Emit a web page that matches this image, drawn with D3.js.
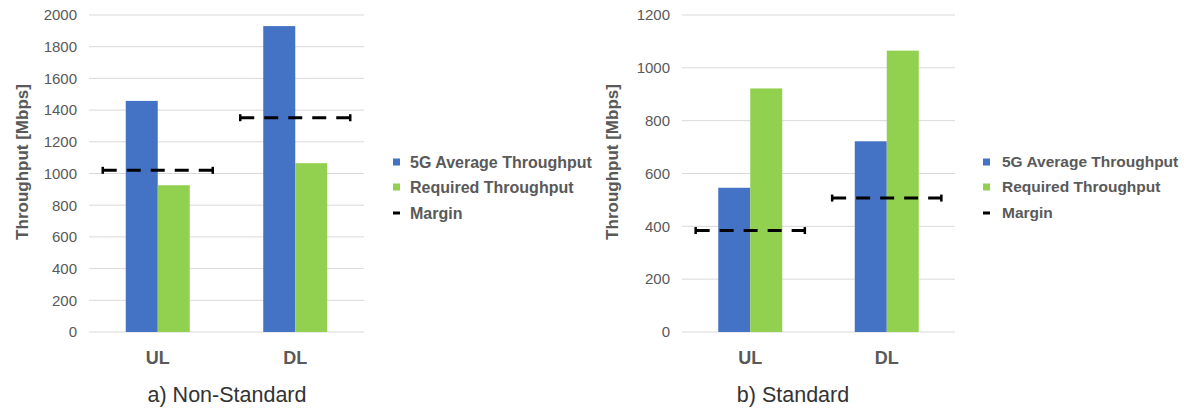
<!DOCTYPE html>
<html><head><meta charset="utf-8">
<script src="https://cdn.jsdelivr.net/npm/d3@7"></script>
<style>body{margin:0;background:#fff}svg{display:block}text{font-family:"Liberation Sans",Arial,sans-serif}</style>
</head><body><svg id="c" width="1184" height="412"></svg>
<script>
const categories = ["UL", "DL"];
const seriesNames = ["5G Average Throughput", "Required Throughput", "Margin"];
const nonStdAvg = [1458, 1930];
const nonStdReq = [926, 1065];
const nonStdMargin = [1020, 1352];
const stdAvg = [546, 722];
const stdReq = [922, 1065];
const stdMargin = [384, 507];
const nonStdTicks = [0, 200, 400, 600, 800, 1000, 1200, 1400, 1600, 1800, 2000];
const stdTicks = [0, 200, 400, 600, 800, 1000, 1200];
const subtitles = ["a) Non-Standard", "b) Standard"];
const yTitle = "Throughput [Mbps]";

const colors = ["#4472C4", "#92D050"];
const svg = d3.select("#c");

const panels = [
  {avg: nonStdAvg, req: nonStdReq, margin: nonStdMargin, ticks: nonStdTicks, max: 2000,
   x0: 89, x1: 364, titleX: 22, subX: 227, legX: 393},
  {avg: stdAvg, req: stdReq, margin: stdMargin, ticks: stdTicks, max: 1200,
   x0: 682, x1: 955, titleX: 612, subX: 793, legX: 983}
];

panels.forEach((p, pi) => {
  const g = svg.append("g");
  const y = d3.scaleLinear().domain([0, p.max]).range([332, 15]);
  const x = d3.scaleBand().domain(categories).range([p.x0, p.x1]).padding(0);
  const bw = x.bandwidth();
  const sub = d3.scaleBand().domain([0, 1]).range([bw / 2 - 32, bw / 2 + 32]).padding(0);

  // gridlines
  g.selectAll(".grid").data(p.ticks).join("line")
    .attr("x1", p.x0).attr("x2", p.x1)
    .attr("y1", d => y(d)).attr("y2", d => y(d))
    .attr("stroke", "#d9d9d9").attr("stroke-width", 1);

  // y axis labels
  const yAxis = d3.axisLeft(y).tickValues(p.ticks).tickSize(0).tickPadding(0).tickFormat(d3.format("d"));
  const ag = g.append("g").attr("transform", `translate(${p.x0 - 12},0)`).call(yAxis);
  ag.select(".domain").remove();
  ag.selectAll("text").attr("fill", "#595959").style("font-size", "15px")
    .style("font-family", '"Liberation Sans",Arial,sans-serif');

  // bars
  const rows = categories.map((c, i) => ({c, vals: [p.avg[i], p.req[i]], m: p.margin[i]}));
  const cg = g.selectAll(".cat").data(rows).join("g")
    .attr("transform", d => `translate(${x(d.c)},0)`);
  cg.selectAll("rect").data(d => d.vals).join("rect")
    .attr("x", (d, i) => sub(i)).attr("width", sub.bandwidth())
    .attr("y", d => y(d)).attr("height", d => y(0) - y(d))
    .attr("fill", (d, i) => colors[i]);

  // margin dashed lines with caps
  const half = bw * 0.4;
  cg.append("line")
    .attr("x1", bw / 2 - half).attr("x2", bw / 2 + half)
    .attr("y1", d => y(d.m)).attr("y2", d => y(d.m))
    .attr("stroke", "#000").attr("stroke-width", 3).attr("stroke-dasharray", "14,10");
  [-1, 1].forEach(s => {
    cg.append("line")
      .attr("x1", bw / 2 + s * half).attr("x2", bw / 2 + s * half)
      .attr("y1", d => y(d.m) - 3.5).attr("y2", d => y(d.m) + 3.5)
      .attr("stroke", "#000").attr("stroke-width", 2.5);
  });

  // category labels
  g.selectAll(".cl").data(categories).join("text")
    .attr("x", d => x(d) + bw / 2).attr("y", 364)
    .attr("text-anchor", "middle").attr("fill", "#595959")
    .style("font-size", "18px").style("font-weight", "bold").text(d => d);

  // y title
  g.append("text").attr("transform", `translate(${p.titleX + 6},162) rotate(-90)`)
    .attr("text-anchor", "middle").attr("fill", "#595959")
    .style("font-size", "17px").style("font-weight", "bold").text(yTitle);

  // subtitle
  g.append("text").attr("x", p.subX).attr("y", 402).attr("text-anchor", "middle")
    .attr("fill", "#333").style("font-size", "21.5px").text(subtitles[pi]);

  // legend
  const lg = g.append("g").attr("transform", `translate(${p.legX},0)`);
  const ly = [162, 187, 213];
  seriesNames.forEach((name, i) => {
    if (i < 2) {
      lg.append("rect").attr("x", 0).attr("y", ly[i] - 3.5).attr("width", 7).attr("height", 7).attr("fill", colors[i]);
    } else {
      lg.append("line").attr("x1", 0).attr("x2", 7).attr("y1", ly[i]).attr("y2", ly[i])
        .attr("stroke", "#000").attr("stroke-width", 3);
    }
    lg.append("text").attr("x", pi === 0 ? 17 : 19).attr("y", ly[i]).attr("dy", "0.35em")
      .attr("fill", "#595959").style("font-size", pi === 0 ? "16px" : "15.5px").style("font-weight", "bold").text(name);
  });
});
</script></body></html>
